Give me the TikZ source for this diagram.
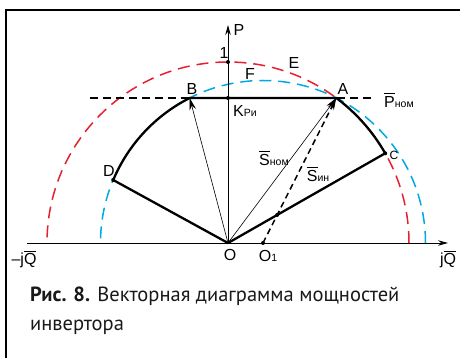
\documentclass[tikz,border=0pt]{standalone}
\usepackage{fontspec}
\usepackage{amsmath}
\setmainfont{Liberation Sans}
\newfontfamily\capfont{PT Sans}
\usetikzlibrary{arrows.meta}
\definecolor{redarc}{RGB}{230,32,45}
\definecolor{bluearc}{RGB}{0,168,228}
\newcommand{\vbar}[1]{$\overline{\text{#1}}$}
\newcommand{\lsub}[1]{{\fontsize{10.5}{12}\selectfont #1}}

\begin{document}
\begin{tikzpicture}[x=1pt, y=1pt, >={Stealth[length=12pt,width=6.5pt]},
  thickline/.style={line width=2.3pt, line join=round},
  axisline/.style={line width=0.9pt, -{Stealth[length=10pt,width=5.5pt]}},
  thinvec/.style={line width=0.6pt, ->},
  dashvec/.style={line width=1.5pt, dash pattern=on 6pt off 4pt, ->},
  redcircle/.style={redarc, line width=1.5pt, dash pattern=on 12pt off 7pt},
  bluecircle/.style={bluearc, line width=1.5pt, dash pattern=on 12pt off 7pt},
  dot/.style={circle, fill, inner sep=0pt, minimum size=4pt},
  lbl/.style={font=\fontsize{16}{18}\selectfont, inner sep=0.5pt},
  capstyle/.style={font=\capfont\fontsize{20.5}{24}\selectfont, inner sep=0pt, anchor=base west, text=black!90}]

\useasboundingbox (-228,-115) rectangle (232,243);

% ---------- frame ----------
\draw[line width=2pt] (-222,-115) -- (-222,233) -- (232,233);

% ---------- points ----------
\coordinate (O) at (0,0);
\coordinate (O1) at (35,0);
\coordinate (A) at (108.3,145);
\coordinate (B) at (-38.3,145);
\coordinate (K) at (0,145);
\coordinate (one) at (0,181);
\coordinate (C) at (157.2,89.7);
\coordinate (D) at (-114.8,63.0);
\coordinate (Qneg) at (-201,0);
\coordinate (Qpos) at (220,0);
\coordinate (Ptop) at (0,218);
\coordinate (PL) at (-138,145);
\coordinate (PR) at (145,145);
\coordinate (X) at (intersection of O1--A and O--C);

% ---------- circles: red round O, blue round O1 ----------
\draw[redcircle] (O) ++(181pt,0) arc[start angle=0, end angle=180, radius=181pt];
\draw[bluecircle] (O1) ++(162.5pt,0) arc[start angle=0, end angle=180, radius=162.5pt];

% ---------- axes and P line ----------
\draw[axisline] (Qneg) -- (Qpos);
\draw[axisline] (O) -- (Ptop);
\draw[line width=1.2pt, dash pattern=on 8pt off 5pt] (PL) -- (PR);

% ---------- working area ----------
\draw[thickline] (D) -- (O) -- (C)
  arc[start angle=29.7, end angle=53.24, radius=181pt] -- (B)
  arc[start angle=116.82, end angle=157.2, radius=162.5pt];

% ---------- vectors ----------
\draw[thinvec] (O) -- (B);
\draw[thinvec] (O) -- (A);
\draw[dashvec] (O1) -- (A);

\node[dot] (dOne) at (one) {};
\node[dot] (dK) at (K) {};
\node[dot] (dO1) at (O1) {};
\node[dot] (dC) at (C) {};
\node[dot] (dD) at (D) {};
\node[dot] (dX) at (X) {};

% ---------- labels ----------
\node[lbl] (lP) at (11,213) {P};
\node[lbl] (lOne) at (-4,190) {1};
\node[lbl] (lE) at (66,180) {E};
\node[lbl] (lF) at (22,169) {F};
\node[lbl] (lB) at (-36,154) {B};
\node[lbl] (lA) at (115,154) {A};
\node[lbl] (lPnom) at (171,143) {\vbar{P}\lsub{ном}};
\node[lbl] (lK) at (17,132) {K\lsub{Pи}};
\node[lbl] (lD) at (-119,72) {D};
\node[lbl, font=\fontsize{12}{14}\selectfont] (lC) at (166,88) {C};
\node[lbl] (lSnom) at (46,85) {\vbar{S}\lsub{ном}};
\node[lbl] (lSin) at (90,69) {\vbar{S}\lsub{ин}};
\node[lbl] (lO) at (2,-12) {O};
\node[lbl] (lO1) at (40,-13) {O\lsub{1}};
\node[lbl] (lQneg) at (-204,-16) {\textendash j\vbar{Q}};
\node[lbl] (lQpos) at (220,-16) {j\vbar{Q}};

% ---------- caption ----------
\node[capstyle] (cap1) at (-198,-59) {\textbf{Рис. 8.} Векторная диаграмма мощностей};
\node[capstyle] (cap2) at (-198,-88) {инвертора};

\end{tikzpicture}
\end{document}
